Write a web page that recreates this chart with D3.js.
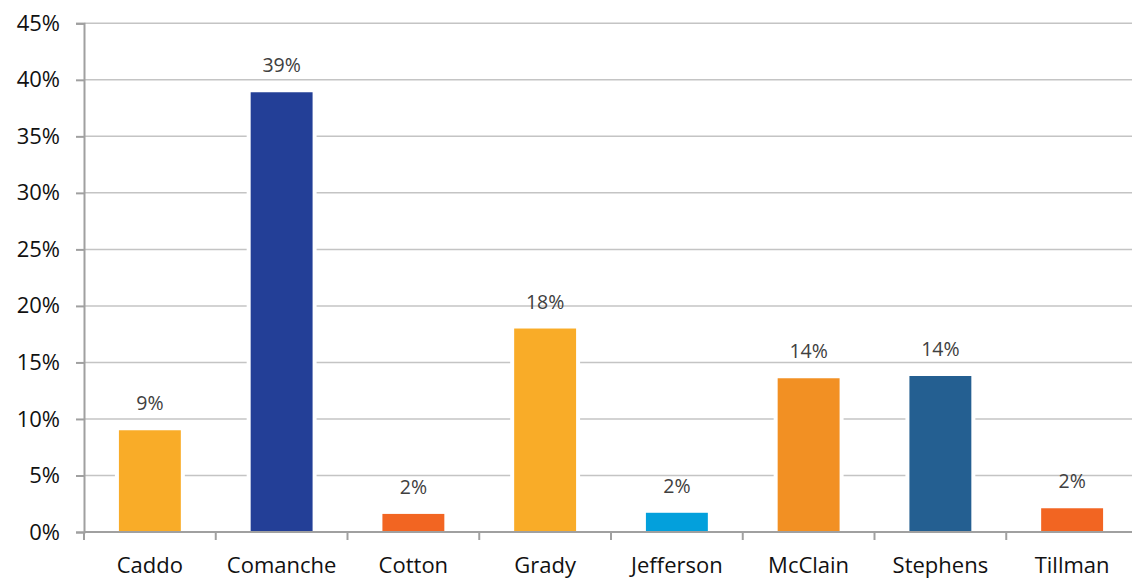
<!DOCTYPE html>
<html>
<head>
<meta charset="utf-8">
<script src="https://cdn.jsdelivr.net/npm/d3@7"></script>
<style>
  html, body { margin: 0; padding: 0; background: #ffffff; }
  svg { display: block; }
</style>
</head>
<body>
<svg id="chart" width="1132" height="578"></svg>
<script>
const categories = ["Caddo", "Comanche", "Cotton", "Grady", "Jefferson", "McClain", "Stephens", "Tillman"];
const values = [0.09, 0.389, 0.016, 0.18, 0.017, 0.136, 0.138, 0.021];
const barColors = ["#F9AC28", "#233F97", "#F26522", "#F9AC28", "#03A0DC", "#F29023", "#245F91", "#F26522"];
const yTicks = [0, 0.05, 0.10, 0.15, 0.20, 0.25, 0.30, 0.35, 0.40, 0.45];

const svg = d3.select("#chart");
const margin = { left: 84, right: -6, top: 23.3, bottom: 46 };
const W = 1132, H = 578;

const x = d3.scaleBand().domain(categories).range([margin.left, W - margin.right]).paddingInner(0.53).paddingOuter(0.265);
const y = d3.scaleLinear().domain([0, 0.45]).range([H - margin.bottom, margin.top]);

// gridlines
svg.append("g").selectAll("line").data(yTicks.filter(d => d > 0)).join("line")
  .attr("x1", margin.left).attr("x2", W - margin.right)
  .attr("y1", d => y(d)).attr("y2", d => y(d))
  .attr("stroke", "#c4c4c4").attr("stroke-width", 1.5);

// white halo behind bars
svg.append("g").selectAll("rect").data(categories).join("rect")
  .attr("x", d => x(d) - 4).attr("width", x.bandwidth() + 8)
  .attr("y", (d, i) => y(values[i]) - 2).attr("height", (d, i) => y(0) - y(values[i]) + 2)
  .attr("fill", "#ffffff");

// bars
svg.append("g").selectAll("rect").data(categories).join("rect")
  .attr("x", d => x(d)).attr("width", x.bandwidth())
  .attr("y", (d, i) => y(values[i])).attr("height", (d, i) => y(0) - y(values[i]))
  .attr("fill", (d, i) => barColors[i]);

// data labels
const fmt = d3.format(".0%");
svg.append("g").selectAll("text").data(categories).join("text")
  .attr("x", d => x(d) + x.bandwidth() / 2)
  .attr("y", (d, i) => y(values[i]) - 20)
  .attr("text-anchor", "middle")
  .attr("font-family", "'Open Sans', sans-serif").attr("font-size", 19.5)
  .attr("fill", "#404040")
  .text((d, i) => fmt(values[i]));

// y axis
const yAxis = d3.axisLeft(y).tickValues(yTicks).tickFormat(d3.format(".0%")).tickSize(8).tickPadding(16);
const gy = svg.append("g").attr("transform", `translate(${margin.left},0)`).call(yAxis);
gy.select(".domain").attr("stroke", "#a0a0a0").attr("stroke-width", 2);
gy.selectAll(".tick line").attr("stroke", "#a0a0a0").attr("stroke-width", 2);
gy.selectAll(".tick text").attr("font-family", "'Open Sans', sans-serif").attr("font-size", 22).attr("fill", "#111");

// x axis
const gx = svg.append("g").attr("transform", `translate(0,${y(0)})`);
gx.append("line").attr("x1", margin.left).attr("x2", W - margin.right).attr("y1", 0).attr("y2", 0)
  .attr("stroke", "#a0a0a0").attr("stroke-width", 2);
const boundaries = d3.range(categories.length + 1).map(i => margin.left + i * (W - margin.right - margin.left) / categories.length);
gx.selectAll("line.tk").data(boundaries).join("line").attr("class", "tk")
  .attr("x1", d => d).attr("x2", d => d).attr("y1", 0).attr("y2", 8)
  .attr("stroke", "#a0a0a0").attr("stroke-width", 2);
gx.selectAll("text").data(categories).join("text")
  .attr("x", d => x(d) + x.bandwidth() / 2).attr("y", 40.5)
  .attr("text-anchor", "middle")
  .attr("font-family", "'Open Sans', sans-serif").attr("font-size", 22).attr("fill", "#111")
  .text(d => d);
</script>
</body>
</html>
